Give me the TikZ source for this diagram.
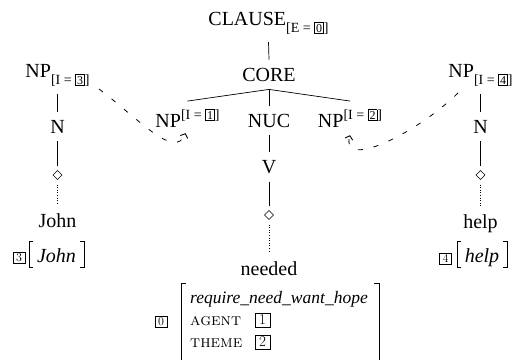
\documentclass[tikz,border=0pt]{standalone}
\usepackage{fontspec}
\newfontfamily\tms{Liberation Serif}
\usetikzlibrary{arrows.meta}
\newcommand\tbx[1]{{\setlength\fboxsep{1.3pt}\setlength\fboxrule{0.5pt}\fontsize{12}{12}\selectfont\fbox{#1}}}
\newcommand\subl[1]{\raisebox{-7pt}{\fontsize{14}{14}\selectfont[#1]}}
\newcommand\supl[1]{\raisebox{8pt}{\fontsize{14}{14}\selectfont[#1]}}
\begin{document}
\begin{tikzpicture}[x=1pt,y=-1pt,
  lab/.style={font=\tms\fontsize{20}{20}\selectfont, inner xsep=1pt, inner ysep=8pt, anchor=base},
  dia/.style={inner sep=0pt, minimum size=9pt, outer sep=5pt},
  dshape/.style={line width=0.55pt},
  tr/.style={line width=0.7pt},
  dots/.style={line width=0.5pt, dash pattern=on 0.6pt off 2pt},
  lnk/.style={line width=0.8pt, dash pattern=on 5pt off 11pt, -{Straight Barb[length=3.5pt,width=8pt,line width=0.9pt]}},
  avmbox/.style={draw, line width=0.5pt, inner sep=0pt, minimum width=12pt, minimum height=11pt, font=\fontsize{12}{12}\selectfont},
  bigbox/.style={avmbox, minimum width=15pt, minimum height=14pt, font=\fontsize{15}{15}\selectfont},
  row/.style={anchor=base west, inner sep=0pt},
  brk/.style={line width=1pt}]
\clip (0,0) rectangle (516,359);
% tree
\node[lab] (clause) at (268.5,25) {CLAUSE\subl{E = \tbx{0}}};
\node[lab] (core) at (269,81) {CORE};
\node[lab] (np1) at (187.5,127) {NP\supl{I = \tbx{1}}};
\node[lab] (nuc) at (269,127) {NUC};
\node[lab] (np2) at (350,127) {NP\supl{I = \tbx{2}}};
\node[lab] (v) at (269,173) {V};
\node[dia] (dv) at (269,215) {};
\node[lab] (needed) at (269,275) {needed};
\node[lab] (np3) at (57.5,77) {NP\subl{I = \tbx{3}}};
\node[lab] (n3) at (57.5,133) {N};
\node[dia] (d3) at (57.5,175) {};
\node[lab] (john) at (57.5,227) {John};
\node[lab] (np4) at (480.5,77) {NP\subl{I = \tbx{4}}};
\node[lab] (n4) at (480.5,133) {N};
\node[dia] (d4) at (480.5,175) {};
\node[lab] (help) at (480.5,228) {help};
\foreach \d in {dv,d3,d4}
  \draw[dshape] (\d.center) ++(0,-4.5) -- ++(4.5,4.5) -- ++(-4.5,4.5) -- ++(-4.5,-4.5) -- cycle;
\draw[tr] (clause.south) -- (core.north);
\draw[tr] (core.south) -- (np1.north);
\draw[tr] (core.south) -- (nuc.north);
\draw[tr] (core.south) -- (np2.north);
\draw[tr] (nuc.south) -- (v.north);
\draw[tr] (v.south) -- (dv.north);
\draw[dots] (dv.south) -- (needed.north);
\draw[tr] (np3.south) -- (n3.north);
\draw[tr] (n3.south) -- (d3.north);
\draw[dots] (d3.south) -- (john.north);
\draw[tr] (np4.south) -- (n4.north);
\draw[tr] (n4.south) -- (d4.north);
\draw[dots] (d4.south) -- (help.north);
% links
\coordinate (s3) at (99,89);
\coordinate (s4) at (458,93);
\draw[lnk] (s3) .. controls (140,120) and (175,160) .. ([xshift=-2pt,yshift=2pt]np1.south);
\draw[lnk] (s4) .. controls (415,135) and (340,170) .. ([yshift=0pt]np2.south);
% AVM needed
\node[avmbox] (b0) at (161,322) {0};
\node[row] (r1) at (190,303) {\tms\itshape\fontsize{17.5}{17.5}\selectfont require\_need\_want\_hope};
\node[row, font=\fontsize{17}{17}\selectfont\scshape] (r2) at (190,325) {agent};
\node[row, font=\fontsize{17}{17}\selectfont\scshape] (r3) at (190,347) {theme};
\node[bigbox] (b1) at (262.5,320) {1};
\node[bigbox] (b2) at (262.5,342) {2};
\draw[brk] (186,283) -- (181,283) -- (181,362) -- (186,362);
\draw[brk] (374,283) -- (379,283) -- (379,362) -- (374,362);
% AVM John
\node[avmbox] (b3) at (19,257.5) {3};
\node[row, anchor=base, font=\tms\itshape\fontsize{20}{20}\selectfont] (jv) at (56.5,262) {John};
\draw[brk] (33,241) -- (29,241) -- (29,267) -- (33,267);
\draw[brk] (80,241) -- (84,241) -- (84,267) -- (80,267);
% AVM help
\node[avmbox] (b4) at (445.5,258.5) {4};
\node[row, anchor=base, font=\tms\itshape\fontsize{20}{20}\selectfont] (hv) at (482,262) {help};
\draw[brk] (461,241) -- (457,241) -- (457,267) -- (461,267);
\draw[brk] (503,241) -- (507,241) -- (507,267) -- (503,267);
\end{tikzpicture}
\end{document}
